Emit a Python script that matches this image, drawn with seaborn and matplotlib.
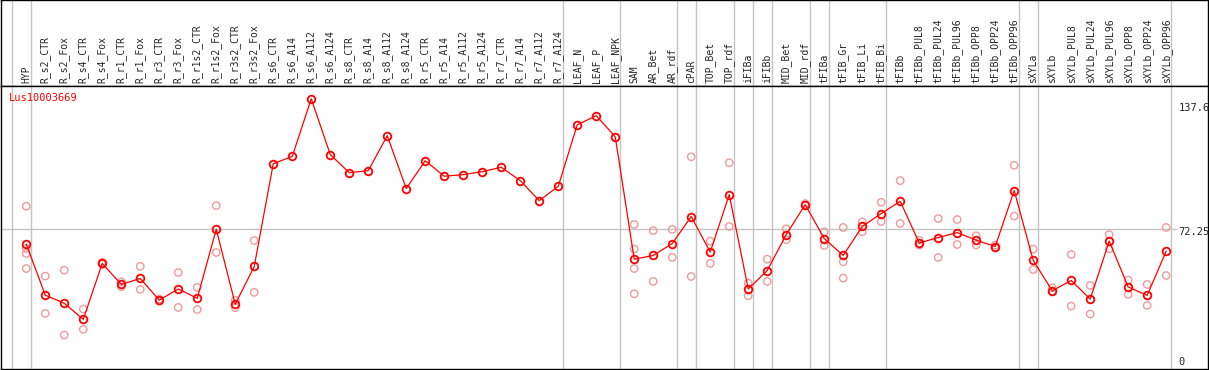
import matplotlib
matplotlib.use('Agg')
import matplotlib.pyplot as plt
import seaborn as sns
import pandas as pd

GENE = 'Lus10003669'

SAMPLES = ['HYP', 'R_s2_CTR', 'R_s2_Fox', 'R_s4_CTR', 'R_s4_Fox', 'R_r1_CTR', 'R_r1_Fox',
           'R_r3_CTR', 'R_r3_Fox', 'R_r1s2_CTR', 'R_r1s2_Fox', 'R_r3s2_CTR', 'R_r3s2_Fox',
           'R_s6_CTR', 'R_s6_A14', 'R_s6_A112', 'R_s6_A124', 'R_s8_CTR', 'R_s8_A14',
           'R_s8_A112', 'R_s8_A124', 'R_r5_CTR', 'R_r5_A14', 'R_r5_A112', 'R_r5_A124',
           'R_r7_CTR', 'R_r7_A14', 'R_r7_A112', 'R_r7_A124', 'LEAF_N', 'LEAF_P', 'LEAF_NPK',
           'SAM', 'AR_Bet', 'AR_rdf', 'cPAR', 'TOP_Bet', 'TOP_rdf', 'iFIBa', 'iFIBb',
           'MID_Bet', 'MID_rdf', 'tFIBa', 'tFIB_Gr', 'tFIB_Li', 'tFIB_Bi', 'tFIBb',
           'tFIBb_PUL8', 'tFIBb_PUL24', 'tFIBb_PUL96', 'tFIBb_OPP8', 'tFIBb_OPP24',
           'tFIBb_OPP96', 'sXYLa', 'sXYLb', 'sXYLb_PUL8', 'sXYLb_PUL24', 'sXYLb_PUL96',
           'sXYLb_OPP8', 'sXYLb_OPP24', 'sXYLb_OPP96']

# mean expression per sample (red line)
MEANS = [64.4, 38.7, 34.6, 26.5, 54.7, 44.1, 47.1, 36.2, 41.8, 37.1, 71.9, 34.1, 53.2,
         104.9, 108.6, 137.6, 109.5, 100.4, 101.4, 119.0, 92.4, 106.4, 98.6, 99.4, 100.9,
         103.1, 96.4, 86.3, 93.5, 124.5, 129.1, 118.5,
         56.8, 58.7, 64.7, 78.3, 60.4, 89.3, 41.8, 51.1, 69.2, 84.3, 67.2, 58.7, 73.3,
         79.8, 86.0, 65.0, 67.7, 70.2, 66.4, 63.2, 91.4, 56.2, 40.9, 46.1, 36.7, 65.9,
         42.8, 38.6, 60.9]

# single replicates (pale circles), empty where none were shown
REPLICATES = [
    [83.5, 62.2, 59.7, 52.1], [48.3, 29.5], [51.3, 18.6], [31.7, 21.5], [55.2, 54.2],
    [45.4, 42.9], [53.2, 41.6], [36.7, 35.7], [50.1, 32.5], [42.6, 31.5], [83.8, 60.2],
    [36.2, 32.4], [66.2, 40.1],
    [], [], [], [], [], [], [], [], [], [], [], [], [], [], [], [], [], [], [],
    [74.3, 61.9, 52.1, 39.4], [71.2, 45.6], [71.8, 57.7], [108.4, 48.1], [65.9, 54.7],
    [105.4, 73.3], [44.8, 38.4], [56.8, 45.6], [72.1, 66.6], [84.8, 84.0], [70.6, 63.7],
    [72.8, 55.5, 47.3], [75.6, 70.6], [85.5, 75.8], [96.4, 74.8], [66.4, 63.9],
    [77.3, 57.7], [76.8, 64.2], [68.6, 64.0], [63.9, 62.5], [104.1, 78.5], [61.9, 51.6],
    [42.4, 40.4], [59.2, 33.2], [43.6, 29.2], [69.2, 62.0], [46.3, 39.1], [44.1, 33.5],
    [72.8, 48.6]]

# sample groups end after these positions (grey dividers)
GROUP_ENDS = [-1, 0, 28, 31, 34, 35, 37, 38, 39, 41, 42, 45, 52, 53, 60]
SCALE_MARKS = [137.6, 72.25, 0]
MID_LINE = 72.25

RED = '#ff0000'
PINK = '#f09a9a'
GRID = '#c4c4c4'

sns.set_style('white')
plt.rcParams['font.family'] = ['DejaVu Sans Mono', 'DejaVu Sans']

W, H = 1209, 370
fig = plt.figure(figsize=(W / 100, H / 100), dpi=100)
ax_h = fig.add_axes([1 / W, (H - 85.5) / H, 1207 / W, 85.5 / H])
ax = fig.add_axes([1 / W, 1 / H, 1207 / W, (369 - 85.5) / H], sharex=ax_h)

pos = list(range(len(SAMPLES)))
rep_df = pd.DataFrame([(i, v) for i, reps in enumerate(REPLICATES) for v in reps],
                      columns=['pos', 'value'])

for a in (ax, ax_h):
    for g in GROUP_ENDS:
        a.axvline(g + 0.23, color=GRID, lw=1.0, zorder=0)
    for s in a.spines.values():
        s.set_color('black')
        s.set_linewidth(1.0)

ax.set_xlim(-1.33, 62.2)
ax.set_ylim(1.5, 144.3)
ax_h.set_ylim(0, 1)

ax.hlines(MID_LINE, -1.33, 60.55, color=GRID, lw=1.0, zorder=0)

sns.scatterplot(data=rep_df, x='pos', y='value', ax=ax, color=PINK, facecolor='none',
                edgecolor=PINK, s=28, linewidth=1.0, zorder=2, legend=False)
sns.lineplot(x=pos, y=MEANS, ax=ax, color=RED, linewidth=0.9, marker='o', markersize=5.5,
             markerfacecolor='none', markeredgecolor=RED, markeredgewidth=1.3, zorder=3)

for a in (ax, ax_h):
    a.set_xticks([])
    a.set_yticks([])
    a.set_xlabel('')
    a.set_ylabel('')

for i, name in enumerate(SAMPLES):
    ax_h.text(i, 0.03, name, rotation=90, ha='center', va='bottom', fontsize=7)

ax.text(0.0065, 0.955, GENE, transform=ax.transAxes, color=RED, fontsize=7.5,
        ha='left', va='center')

offsets = [-6.8, -2.7, 7.4]
for val, dy in zip(SCALE_MARKS, offsets):
    ax.annotate(f'{val:g}', xy=(60.65, val), xytext=(0, dy), textcoords='offset points',
                ha='left', va='center', fontsize=7.5, annotation_clip=False)

fig.savefig('out.png', dpi=100)
